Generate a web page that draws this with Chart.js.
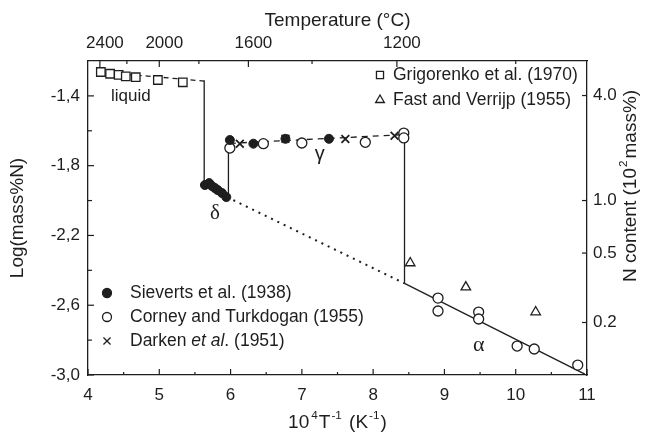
<!DOCTYPE html>
<html>
<head>
<meta charset="utf-8">
<script src="https://cdn.jsdelivr.net/npm/chart.js@4.4.1/dist/chart.umd.min.js"></script>
<style>
  html, body { margin: 0; padding: 0; background: #fff; }
  #wrap { width: 647px; height: 439px; }
</style>
</head>
<body>
<div id="wrap"><canvas id="c" width="647" height="439"></canvas></div>
<script>
// ---- axis ticks ----
const xTicks = [4, 5, 6, 7, 8, 9, 10, 11];
const xMinorTicks = [4.5, 5.5, 6.5, 7.5, 8.5, 9.5, 10.5];
const yTicks = [-1.4, -1.8, -2.2, -2.6, -3.0];
const yMinorTicks = [-1.6, -2.0, -2.4, -2.8];
const tempTicks = [2400, 2000, 1600, 1200];        // top axis labels
const tempMinorTicks = [2200, 1800, 1400, 1000];
const nContentTicks = [4.0, 1.0, 0.5, 0.2];         // right axis, 10^-2 mass%

// ---- measurements: x = 10^4/T, y = log(mass% N) ----
const grigorenkoX = [4.18, 4.31, 4.43, 4.53, 4.67, 4.98, 5.33];
const grigorenkoY = [-1.263, -1.273, -1.280, -1.288, -1.293, -1.309, -1.322];

const fastX = [8.52, 9.30, 10.28];
const fastY = [-2.358, -2.496, -2.639];

const sievertsX = [5.64, 5.70, 5.74, 5.78, 5.82, 5.88, 5.94, 5.99, 6.32, 6.77, 7.38];
const sievertsY = [-1.911, -1.900, -1.917, -1.928, -1.940, -1.957, -1.980, -1.653, -1.674, -1.646, -1.646];

const corneyX = [5.99, 6.46, 7.00, 7.89, 8.43, 8.43, 8.91, 8.91, 9.48, 9.48, 10.02, 10.26, 10.87];
const corneyY = [-1.699, -1.674, -1.670, -1.666, -1.613, -1.641, -2.559, -2.633, -2.639, -2.679, -2.834, -2.851, -2.943];

const darkenX = [6.13, 6.77, 7.61, 8.30];
const darkenY = [-1.674, -1.646, -1.647, -1.628];

// ---- phase boundary lines ----
const liquidLineX = [4.18, 5.63];   const liquidLineY = [-1.263, -1.315];
const liqDeltaX = [5.63, 5.63];     const liqDeltaY = [-1.31, -1.90];
const deltaGammaX = [5.97, 5.97];   const deltaGammaY = [-1.98, -1.655];
const gammaLineX = [5.99, 8.43];    const gammaLineY = [-1.672, -1.622];
const gammaAlphaX = [8.44, 8.44];   const gammaAlphaY = [-1.600, -2.475];
const deltaExtX = [5.95, 8.44];     const deltaExtY = [-1.980, -2.475];
const alphaLineX = [8.44, 10.97];   const alphaLineY = [-2.475, -2.995];

const INK = '#1e1e1e';
const SANS = '"Liberation Sans", Arial, sans-serif';
const SERIF = '"Liberation Serif", "Times New Roman", serif';

const pts = (xs, ys) => xs.map((x, i) => ({ x, y: ys[i] }));

function markerSet(label, xs, ys, style, radius, fill, width) {
  return {
    label, data: pts(xs, ys), order: 1,
    pointStyle: style, pointRadius: radius, pointHoverRadius: radius,
    pointBackgroundColor: fill, pointBorderColor: INK, pointBorderWidth: width,
    showLine: false
  };
}
function lineSet(xs, ys, dash, width) {
  return {
    label: '', data: pts(xs, ys), order: 5, showLine: true,
    pointRadius: 0, borderColor: INK, borderWidth: width || 1.3,
    borderDash: dash || [], fill: false, tension: 0
  };
}

// draws a run of text pieces (plain / superscript / italic)
function richText(ctx, parts, x, y, size, align, family) {
  family = family || SANS;
  const fontOf = p => (p.it ? 'italic ' : '') + (p.sup ? size * 0.62 : size) + 'px ' + family;
  let total = 0;
  const widths = parts.map(p => { ctx.font = fontOf(p); const w = ctx.measureText(p.t).width + (p.gap || 0); total += w; return w; });
  let cx = align === 'center' ? x - total / 2 : (align === 'right' ? x - total : x);
  ctx.textBaseline = 'middle';
  ctx.textAlign = 'left';
  parts.forEach((p, i) => {
    ctx.font = fontOf(p);
    ctx.fillText(p.t, cx, p.sup ? y - size * 0.36 : y);
    cx += widths[i];
  });
}

const legendUpper = [
  { style: 'rect', r: 5, fill: '#fff', parts: [{ t: 'Grigorenko et al. (1970)' }] },
  { style: 'triangle', r: 5, fill: '#fff', parts: [{ t: 'Fast and Verrijp (1955)' }] }
];
const legendLower = [
  { style: 'circle', r: 4.5, fill: INK, parts: [{ t: 'Sieverts et al. (1938)' }] },
  { style: 'circle', r: 4.5, fill: '#fff', parts: [{ t: 'Corney and Turkdogan (1955)' }] },
  { style: 'crossRot', r: 5, fill: INK, parts: [{ t: 'Darken ' }, { t: 'et al', it: true }, { t: '. (1951)' }] }
];

const decorations = {
  id: 'decorations',
  afterDraw(chart) {
    const { ctx, chartArea: a, scales } = chart;
    ctx.save();
    ctx.strokeStyle = INK;
    ctx.fillStyle = INK;
    ctx.lineWidth = 1.2;
    const seg = (x1, y1, x2, y2) => { ctx.beginPath(); ctx.moveTo(x1, y1); ctx.lineTo(x2, y2); ctx.stroke(); };

    // inward tick marks
    xTicks.forEach(v => { const p = scales.x.getPixelForValue(v); seg(p, a.bottom, p, a.bottom - 6); });
    xMinorTicks.forEach(v => { const p = scales.x.getPixelForValue(v); seg(p, a.bottom, p, a.bottom - 3); });
    tempTicks.forEach(t => { const p = scales.xTop.getPixelForValue(1e4 / t); seg(p, a.top, p, a.top + 6); });
    tempMinorTicks.forEach(t => { const p = scales.xTop.getPixelForValue(1e4 / t); seg(p, a.top, p, a.top + 3); });
    yTicks.forEach(v => { const p = scales.y.getPixelForValue(v); seg(a.left, p, a.left + 6, p); });
    yMinorTicks.forEach(v => { const p = scales.y.getPixelForValue(v); seg(a.left, p, a.left + 4, p); });
    nContentTicks.forEach(n => { const p = scales.yRight.getPixelForValue(Math.log10(n / 100)); seg(a.right, p, a.right - 5, p); });

    // axis titles
    richText(ctx, [{ t: 'Temperature (°C)' }], (a.left + a.right) / 2, 21, 19, 'center');
    richText(ctx, [{ t: '10', gap: 2 }, { t: '4', sup: true, gap: 1 }, { t: 'T', gap: 1 }, { t: '-1', sup: true, gap: 2 }, { t: ' (K', gap: 1 }, { t: '-1', sup: true, gap: 1 }, { t: ')' }],
      (a.left + a.right) / 2, 423, 19, 'center');
    ctx.save(); ctx.translate(18, 218); ctx.rotate(-Math.PI / 2);
    richText(ctx, [{ t: 'Log(mass%N)' }], 0, 0, 19, 'center');
    ctx.restore();
    ctx.save(); ctx.translate(631, 186); ctx.rotate(-Math.PI / 2);
    richText(ctx, [{ t: 'N content (10', gap: 1 }, { t: '2', sup: true, gap: 2 }, { t: 'mass%)' }], 0, 0, 19, 'center');
    ctx.restore();

    // phase labels
    const at = (x, y) => [scales.x.getPixelForValue(x), scales.y.getPixelForValue(y)];
    let p = at(4.60, -1.40); richText(ctx, [{ t: 'liquid' }], p[0], p[1], 17, 'center');
    p = at(5.78, -2.075); richText(ctx, [{ t: 'δ' }], p[0], p[1], 21, 'center', SERIF);
    p = at(7.25, -1.735); richText(ctx, [{ t: 'γ' }], p[0], p[1], 20, 'center');
    p = at(9.48, -2.83); richText(ctx, [{ t: 'α' }], p[0], p[1], 22, 'center', SERIF);

    // legends
    const drawEntry = (e, sx, tx, y) => {
      ctx.fillStyle = e.fill;
      Chart.helpers.drawPoint(ctx, { pointStyle: e.style, radius: e.r, borderWidth: 1.3, rotation: 0 }, sx, y);
      ctx.fillStyle = INK;
      richText(ctx, e.parts, tx, y, 17.5, 'left');
    };
    ctx.lineWidth = 1.3;
    legendUpper.forEach((e, i) => drawEntry(e, 380, 393, 75 + i * 25));
    legendLower.forEach((e, i) => drawEntry(e, 107, 130, 293 + i * 24));
    ctx.restore();
  }
};

const tickFont = { family: SANS, size: 17 };

new Chart(document.getElementById('c'), {
  type: 'scatter',
  data: {
    datasets: [
      markerSet('Grigorenko et al. (1970)', grigorenkoX, grigorenkoY, 'rect', 6, '#fff', 1.3),
      markerSet('Fast and Verrijp (1955)', fastX, fastY, 'triangle', 5.5, '#fff', 1.3),
      markerSet('Sieverts et al. (1938)', sievertsX, sievertsY, 'circle', 4.5, INK, 1),
      markerSet('Corney and Turkdogan (1955)', corneyX, corneyY, 'circle', 5, '#fff', 1.3),
      markerSet('Darken et al. (1951)', darkenX, darkenY, 'crossRot', 5.5, INK, 1.8),
      lineSet(liquidLineX, liquidLineY, [5, 4]),
      lineSet(liqDeltaX, liqDeltaY),
      lineSet(deltaGammaX, deltaGammaY),
      lineSet(gammaLineX, gammaLineY, [6, 5]),
      lineSet(gammaAlphaX, gammaAlphaY),
      lineSet(deltaExtX, deltaExtY, [2, 5], 2),
      lineSet(alphaLineX, alphaLineY)
    ]
  },
  options: {
    responsive: false,
    animation: false,
    layout: { padding: 0 },
    plugins: { legend: { display: false }, tooltip: { enabled: false } },
    scales: {
      x: {
        type: 'linear', position: 'bottom', min: 4, max: 11,
        afterBuildTicks: s => { s.ticks = xTicks.map(v => ({ value: v })); },
        afterFit: s => { s.height = 64; },
        grid: { display: false, drawTicks: false },
        border: { display: true, color: INK, width: 1.3 },
        ticks: { color: INK, font: tickFont, padding: 10, maxRotation: 0, autoSkip: false, callback: v => String(v) }
      },
      xTop: {
        type: 'linear', position: 'top', min: 4, max: 11,
        afterBuildTicks: s => { s.ticks = tempTicks.map(t => ({ value: 1e4 / t })); },
        afterFit: s => { s.height = 61; },
        grid: { display: false, drawTicks: false },
        border: { display: true, color: INK, width: 1.3 },
        ticks: { color: INK, font: tickFont, padding: 7, labelOffset: 5, maxRotation: 0, autoSkip: false, callback: v => String(Math.round(1e4 / v)) }
      },
      y: {
        type: 'linear', position: 'left', min: -3.0, max: -1.2,
        afterBuildTicks: s => { s.ticks = yTicks.map(v => ({ value: v })); },
        afterFit: s => { s.width = 88; },
        grid: { display: false, drawTicks: false },
        border: { display: true, color: INK, width: 1.3 },
        ticks: { color: INK, font: tickFont, padding: 8, autoSkip: false, callback: v => v.toFixed(1).replace('.', ',') }
      },
      yRight: {
        type: 'linear', position: 'right', min: -3.0, max: -1.2,
        afterBuildTicks: s => { s.ticks = nContentTicks.map(n => ({ value: Math.log10(n / 100) })); },
        afterFit: s => { s.width = 60; },
        grid: { display: false, drawTicks: false },
        border: { display: true, color: INK, width: 1.3 },
        ticks: { color: INK, font: tickFont, padding: 6, autoSkip: false, callback: (v, i) => nContentTicks[i].toFixed(1) }
      }
    }
  },
  plugins: [decorations]
});
</script>
</body>
</html>
